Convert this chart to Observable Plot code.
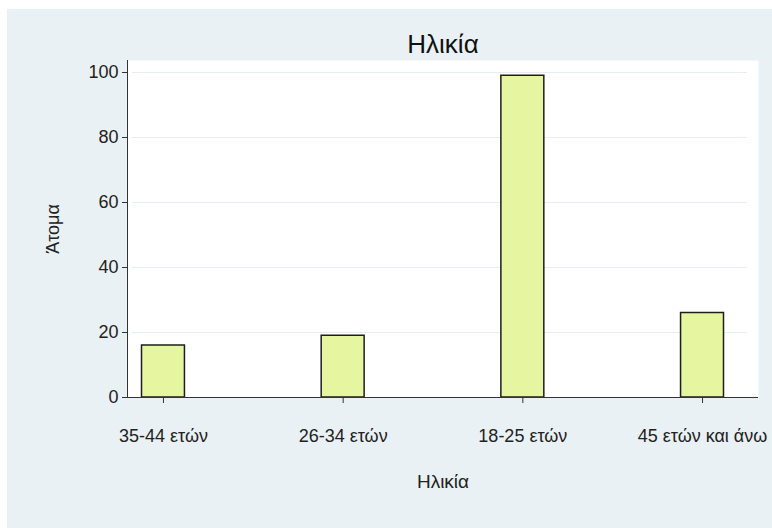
<!DOCTYPE html>
<html><head><meta charset="utf-8">
<script src="https://cdn.jsdelivr.net/npm/d3@7"></script>
<script src="https://cdn.jsdelivr.net/npm/@observablehq/plot@0.6"></script>
<style>
body{margin:0;background:#fff;overflow:hidden;}
#bg{position:absolute;left:7px;top:9px;width:765px;height:519px;background:#eaf1f4;}
#chart{position:absolute;left:0;top:0;}
</style></head><body><div id="bg"></div><div id="chart"></div>
<script>
const categories = ["35-44 ετών","26-34 ετών","18-25 ετών","45 ετών και άνω"];
const counts = [16, 19, 99, 26];
const yTicks = [0, 20, 40, 60, 80, 100];
const title = "Ηλικία";
const xLabel = "Ηλικία";
const yLabel = "Άτομα";

const data = categories.map((c, i) => ({category: c, count: counts[i]}));

const plot = Plot.plot({
  width: 772, height: 528,
  marginLeft: 127, marginRight: 14, marginTop: 60, marginBottom: 131,
  style: {background: "transparent", fontFamily: "'Liberation Sans', Arial, sans-serif", color: "#222", overflow: "visible"},
  x: {domain: categories, range: [141.5, 723.5], paddingInner: 0.761, paddingOuter: 0, round: false},
  y: {domain: [0, 100], range: [397, 72]},
  marks: [
    Plot.frame({fill: "white", stroke: null}),
    Plot.gridY(yTicks.filter(t => t > 0), {stroke: "#e6eef1", strokeOpacity: 1, insetLeft: 5, insetRight: 11}),
    Plot.barY(data, {x: "category", y: "count", fill: "#e5f5a0", stroke: "#1e1e1e", strokeWidth: 1.5}),
    Plot.ruleY([0], {stroke: "#333"}),
    Plot.frame({anchor: "left", stroke: "#333"}),
    Plot.axisY(yTicks, {tickSize: 5, tickPadding: 4, fontSize: 18, label: null, stroke: "#333", fill: "#222"}),
    Plot.axisX({tickSize: 6, tickPadding: 26, fontSize: 18, label: null, stroke: "#333", fill: "#222"}),
    Plot.text([title], {text: d => d, frameAnchor: "top", lineAnchor: "bottom", dy: -8, fontSize: 26, fill: "#111"}),
    Plot.text([xLabel], {text: d => d, frameAnchor: "bottom", lineAnchor: "bottom", dy: 90, fontSize: 19, fill: "#222"}),
    Plot.text([yLabel], {text: d => d, frameAnchor: "left", textAnchor: "middle", lineAnchor: "middle", rotate: -90, dx: -74, fontSize: 18, fill: "#222"})
  ]
});
document.getElementById("chart").appendChild(plot);
</script>
</body></html>
